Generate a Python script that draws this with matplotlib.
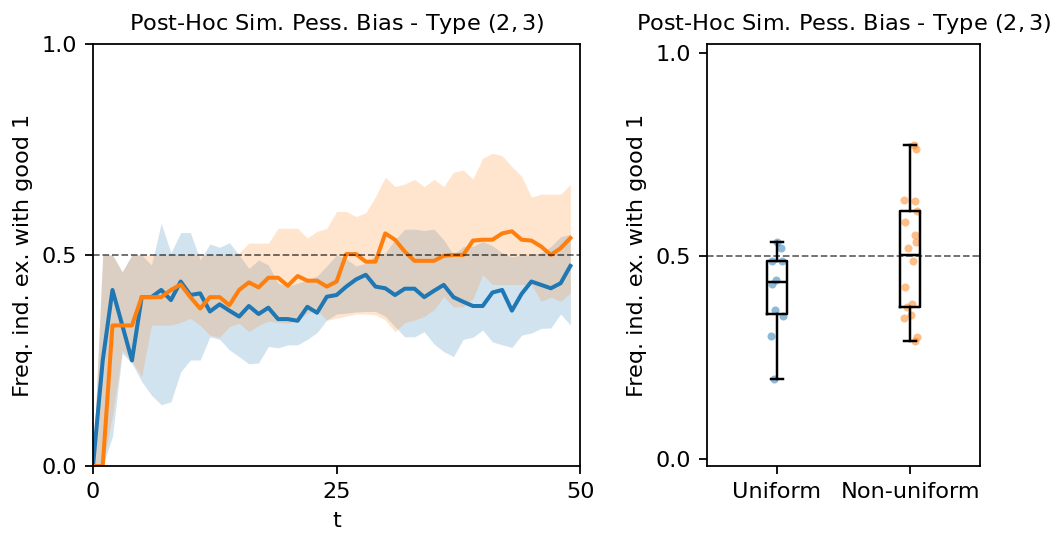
import matplotlib
matplotlib.use("Agg")
import matplotlib.pyplot as plt
import numpy as np

# time steps 0..49
t = np.arange(50)

# mean frequency, uniform (blue) and non-uniform (orange)
uni_mean = [0.0, 0.25, 0.417, 0.334, 0.25, 0.40, 0.40, 0.417, 0.393, 0.437,
            0.405, 0.409, 0.366, 0.383, 0.368, 0.354, 0.379, 0.36, 0.375, 0.348,
            0.348, 0.344, 0.377, 0.363, 0.401, 0.405, 0.425, 0.442, 0.453, 0.425,
            0.421, 0.405, 0.42, 0.42, 0.40, 0.415, 0.429, 0.40, 0.389, 0.379,
            0.379, 0.411, 0.417, 0.368, 0.408, 0.437, 0.429, 0.421, 0.433, 0.474]
non_mean = [0.0, 0.0, 0.333, 0.333, 0.333, 0.40, 0.40, 0.40, 0.417, 0.43,
            0.40, 0.373, 0.40, 0.40, 0.381, 0.417, 0.435, 0.423, 0.446, 0.446,
            0.427, 0.45, 0.439, 0.439, 0.425, 0.437, 0.502, 0.502, 0.484, 0.484,
            0.551, 0.536, 0.508, 0.486, 0.486, 0.486, 0.498, 0.5, 0.5, 0.534,
            0.536, 0.536, 0.551, 0.556, 0.536, 0.534, 0.52, 0.5, 0.516, 0.54]

# shaded band limits
uni_lo = [0.0, 0.0, 0.07, 0.267, 0.243, 0.2, 0.168, 0.145, 0.152, 0.223,
          0.251, 0.251, 0.306, 0.30, 0.275, 0.259, 0.242, 0.244, 0.283, 0.28,
          0.287, 0.287, 0.30, 0.316, 0.346, 0.36, 0.362, 0.365, 0.366, 0.366,
          0.355, 0.33, 0.306, 0.306, 0.318, 0.289, 0.271, 0.259, 0.30, 0.305,
          0.322, 0.294, 0.287, 0.281, 0.31, 0.315, 0.326, 0.327, 0.36, 0.334]
uni_hi = [0.0, 0.5, 0.5, 0.46, 0.5, 0.5, 0.476, 0.575, 0.505, 0.553,
          0.553, 0.488, 0.526, 0.518, 0.529, 0.5, 0.468, 0.488, 0.476, 0.433,
          0.425, 0.433, 0.44, 0.45, 0.474, 0.5, 0.49, 0.474, 0.48, 0.5,
          0.505, 0.536, 0.561, 0.561, 0.558, 0.561, 0.536, 0.5, 0.52, 0.52,
          0.532, 0.522, 0.505, 0.495, 0.5, 0.5, 0.505, 0.52, 0.543, 0.549]
non_lo = [0.0, 0.0, 0.12, 0.275, 0.247, 0.212, 0.334, 0.334, 0.334, 0.34,
          0.35, 0.333, 0.31, 0.305, 0.33, 0.338, 0.318, 0.333, 0.343, 0.34,
          0.338, 0.345, 0.362, 0.37, 0.345, 0.35, 0.355, 0.36, 0.36, 0.358,
          0.346, 0.318, 0.34, 0.346, 0.354, 0.37, 0.401, 0.377, 0.377, 0.396,
          0.453, 0.43, 0.43, 0.43, 0.43, 0.43, 0.39, 0.40, 0.39, 0.41]
non_hi = [0.0, 0.5, 0.5, 0.46, 0.5, 0.5, 0.5, 0.5, 0.5, 0.5,
          0.5, 0.5, 0.5, 0.5, 0.5, 0.505, 0.528, 0.528, 0.528, 0.563,
          0.563, 0.563, 0.54, 0.556, 0.563, 0.603, 0.603, 0.591, 0.6, 0.638,
          0.684, 0.662, 0.668, 0.679, 0.662, 0.679, 0.662, 0.696, 0.701, 0.68,
          0.729, 0.741, 0.735, 0.709, 0.686, 0.637, 0.644, 0.644, 0.644, 0.667]

# final frequencies per run (right panel)
groups = ["Uniform", "Non-uniform"]
uni_final = [0.535, 0.519, 0.488, 0.488, 0.441, 0.430, 0.367, 0.352, 0.303, 0.196]
non_final = [0.773, 0.764, 0.638, 0.636, 0.611, 0.583, 0.552, 0.534, 0.519,
             0.488, 0.424, 0.381, 0.374, 0.355, 0.346, 0.301, 0.289]
non_median = 0.502
# horizontal jitter of the strip points
uni_jit = [0.003, 0.033, -0.037, 0.037, -0.007, -0.034, -0.01, 0.045, -0.045, -0.017]
non_jit = [0.03, 0.045, -0.045, 0.037, 0.047, -0.037, 0.035, 0.04, -0.02,
           0.017, -0.04, 0.013, -0.025, 0.002, -0.047, 0.047, 0.035]

DPI = 161
plt.rcParams['font.size'] = 10
title = "Post-Hoc Sim. Pess. Bias - Type $(2, 3)$"
ylab = "Freq. ind. ex. with good 1"

fig = plt.figure(figsize=(1059/DPI, 535/DPI), dpi=DPI)
ax1 = fig.add_axes([0.0878, 0.129, 0.46, 0.789])
ax2 = fig.add_axes([0.6676, 0.129, 0.2578, 0.789])

# left: time series with bands
ax1.fill_between(t, uni_lo, uni_hi, color='C0', alpha=0.2, lw=0)
ax1.fill_between(t, non_lo, non_hi, color='C1', alpha=0.2, lw=0)
ax1.plot(t, uni_mean, color='C0', lw=1.8)
ax1.plot(t, non_mean, color='C1', lw=1.8)
ax1.axhline(0.5, color='k', ls='--', lw=0.8, alpha=0.6)
ax1.set_xlim(0, 50)
ax1.set_ylim(0, 1)
ax1.set_xticks([0, 25, 50])
ax1.set_yticks([0.0, 0.5, 1.0])
ax1.set_xlabel("t")
ax1.set_ylabel(ylab)
ax1.set_title(title, fontsize=10)

# right: box + strip
pos = [1, 2]
ax2.axhline(0.5, color='k', ls='--', lw=0.8, alpha=0.6)
ax2.scatter(np.array(uni_jit) + pos[0], uni_final, s=13, color='C0', alpha=0.5, lw=0)
ax2.scatter(np.array(non_jit) + pos[1], non_final, s=13, color='C1', alpha=0.5, lw=0)
ax2.boxplot([uni_final, non_final], positions=pos, widths=0.15,
            usermedians=[None, non_median], showfliers=False,
            capwidths=0.09,
            boxprops=dict(color='k', lw=1.1),
            medianprops=dict(color='k', lw=1.1),
            whiskerprops=dict(color='k', lw=1.1),
            capprops=dict(color='k', lw=1.1))
ax2.set_xlim(0.48, 2.52)
ax2.set_ylim(-0.018, 1.022)
ax2.set_xticks(pos)
ax2.set_xticklabels(groups)
ax2.set_yticks([0.0, 0.5, 1.0])
ax2.set_ylabel(ylab)
ax2.set_title(title, fontsize=10)

fig.savefig("out.png", dpi=DPI)
